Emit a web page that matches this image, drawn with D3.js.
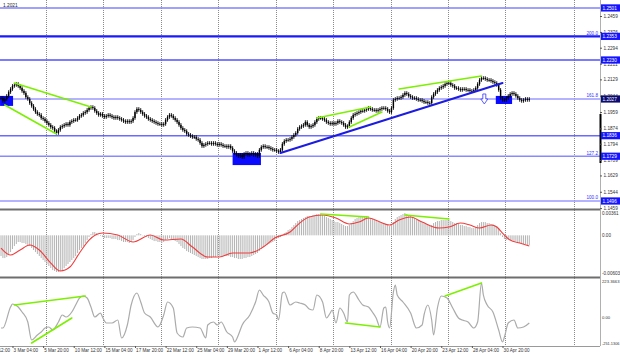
<!DOCTYPE html>
<html><head><meta charset="utf-8">
<script src="https://cdn.jsdelivr.net/npm/d3@7"></script>
<style>body{margin:0;background:#fff}svg{display:block}</style>
</head><body><svg id="c" width="620" height="357"></svg>
<script>
// ---- DATA ----
const closes = [
1.2032,1.2017,1.2027,1.2043,1.2063,1.2079,1.2095,1.2100,1.2105,1.2095,
1.2084,1.2069,1.2058,1.2037,1.2027,1.2006,1.1991,1.1975,1.1959,1.1949,
1.1944,1.1928,1.1923,1.1912,1.1902,1.1892,1.1881,1.1876,1.1860,1.1850,
1.1866,1.1881,1.1886,1.1892,1.1897,1.1892,1.1907,1.1912,1.1918,1.1918,
1.1928,1.1939,1.1944,1.1954,1.1959,1.1970,1.1980,1.1985,1.1980,1.1965,
1.1954,1.1944,1.1949,1.1939,1.1933,1.1939,1.1944,1.1939,1.1933,1.1928,
1.1933,1.1928,1.1923,1.1918,1.1912,1.1907,1.1912,1.1907,1.1912,1.1928,
1.1959,1.1975,1.1970,1.1959,1.1949,1.1939,1.1933,1.1923,1.1918,1.1912,
1.1907,1.1902,1.1897,1.1897,1.1892,1.1897,1.1918,1.1933,1.1944,1.1939,
1.1928,1.1918,1.1907,1.1892,1.1876,1.1866,1.1860,1.1845,1.1840,1.1834,
1.1829,1.1829,1.1819,1.1814,1.1798,1.1782,1.1788,1.1793,1.1798,1.1798,
1.1793,1.1798,1.1793,1.1788,1.1793,1.1788,1.1782,1.1782,1.1777,1.1782,
1.1772,1.1756,1.1746,1.1736,1.1730,1.1736,1.1725,1.1741,1.1746,1.1736,
1.1741,1.1746,1.1736,1.1741,1.1730,1.1762,1.1777,1.1782,1.1777,1.1777,
1.1772,1.1767,1.1762,1.1762,1.1756,1.1751,1.1762,1.1793,1.1808,1.1814,
1.1814,1.1819,1.1829,1.1840,1.1850,1.1871,1.1881,1.1886,1.1892,1.1907,
1.1892,1.1881,1.1886,1.1892,1.1907,1.1923,1.1928,1.1928,1.1923,1.1918,
1.1907,1.1902,1.1897,1.1902,1.1897,1.1902,1.1912,1.1907,1.1902,1.1892,
1.1881,1.1886,1.1907,1.1928,1.1944,1.1949,1.1954,1.1959,1.1965,1.1965,
1.1970,1.1975,1.1980,1.1975,1.1970,1.1970,1.1965,1.1970,1.1975,1.1980,
1.1980,1.1975,1.1965,1.1959,1.1980,1.2022,1.2027,1.2032,1.2032,1.2037,
1.2048,1.2058,1.2053,1.2043,1.2037,1.2032,1.2032,1.2027,1.2022,1.2022,
1.2017,1.2011,1.2011,1.2006,1.2006,1.2037,1.2053,1.2063,1.2074,1.2084,
1.2089,1.2095,1.2105,1.2110,1.2110,1.2100,1.2095,1.2084,1.2084,1.2079,
1.2074,1.2079,1.2079,1.2074,1.2074,1.2069,1.2069,1.2074,1.2084,1.2105,
1.2126,1.2136,1.2136,1.2131,1.2126,1.2126,1.2121,1.2115,1.2110,1.2100,
1.2074,1.2032,1.2022,1.2022,1.2032,1.2043,1.2053,1.2058,1.2053,1.2043,
1.2032,1.2022,1.2017,1.2022,1.2027,1.2022,1.2027];

const macdHist = [
-0.00307,-0.00337,-0.00337,-0.00322,-0.00292,-0.00248,-0.00203,-0.00159,-0.00129,-0.00099,
-0.00099,-0.00114,-0.00114,-0.00129,-0.00144,-0.00159,-0.00188,-0.00218,-0.00248,-0.00277,
-0.00307,-0.00337,-0.00366,-0.00396,-0.00426,-0.00455,-0.00485,-0.00515,-0.00529,-0.00544,
-0.00544,-0.00529,-0.00515,-0.00485,-0.00455,-0.00426,-0.00396,-0.00366,-0.00337,-0.00307,
-0.00262,-0.00218,-0.00188,-0.00159,-0.00114,-0.00070,-0.00025,0.00019,0.00049,0.00049,
0.00034,0.00004,-0.00010,-0.00025,-0.00040,-0.00040,-0.00040,-0.00040,-0.00055,-0.00055,
-0.00055,-0.00070,-0.00070,-0.00085,-0.00099,-0.00099,-0.00099,-0.00114,-0.00099,-0.00070,
-0.00025,0.00019,0.00034,0.00019,0.00004,-0.00010,-0.00025,-0.00040,-0.00055,-0.00070,
-0.00085,-0.00085,-0.00099,-0.00099,-0.00114,-0.00099,-0.00070,-0.00055,-0.00040,-0.00055,
-0.00070,-0.00085,-0.00099,-0.00129,-0.00159,-0.00188,-0.00203,-0.00233,-0.00248,-0.00262,
-0.00277,-0.00292,-0.00307,-0.00322,-0.00337,-0.00351,-0.00351,-0.00351,-0.00351,-0.00337,
-0.00337,-0.00322,-0.00322,-0.00307,-0.00307,-0.00307,-0.00307,-0.00307,-0.00307,-0.00307,
-0.00322,-0.00322,-0.00337,-0.00337,-0.00351,-0.00351,-0.00351,-0.00337,-0.00337,-0.00322,
-0.00322,-0.00307,-0.00292,-0.00277,-0.00262,-0.00233,-0.00203,-0.00174,-0.00159,-0.00144,
-0.00129,-0.00114,-0.00099,-0.00085,-0.00055,-0.00040,-0.00025,0.00004,0.00034,0.00049,
0.00079,0.00093,0.00123,0.00153,0.00182,0.00212,0.00227,0.00242,0.00257,0.00271,
0.00286,0.00286,0.00286,0.00301,0.00301,0.00316,0.00316,0.00316,0.00301,0.00286,
0.00271,0.00257,0.00242,0.00227,0.00212,0.00197,0.00197,0.00182,0.00168,0.00153,
0.00138,0.00138,0.00153,0.00182,0.00212,0.00242,0.00257,0.00271,0.00286,0.00286,
0.00286,0.00286,0.00271,0.00257,0.00242,0.00227,0.00212,0.00197,0.00197,0.00182,
0.00182,0.00168,0.00153,0.00138,0.00153,0.00197,0.00242,0.00271,0.00286,0.00301,
0.00316,0.00331,0.00316,0.00301,0.00286,0.00271,0.00257,0.00242,0.00227,0.00212,
0.00197,0.00182,0.00168,0.00153,0.00138,0.00153,0.00182,0.00197,0.00212,0.00212,
0.00227,0.00227,0.00227,0.00227,0.00227,0.00212,0.00197,0.00182,0.00182,0.00168,
0.00153,0.00153,0.00138,0.00138,0.00123,0.00123,0.00108,0.00108,0.00123,0.00153,
0.00182,0.00197,0.00197,0.00197,0.00182,0.00182,0.00168,0.00168,0.00153,0.00138,
0.00108,0.00034,-0.00025,-0.00055,-0.00070,-0.00070,-0.00070,-0.00070,-0.00085,-0.00085,
-0.00099,-0.00114,-0.00114,-0.00129,-0.00129,-0.00144,-0.00144];

const signalBars = [0,5,10,15,20,26,31,36,41,46,53,61,69,78,85,94,100,108,114,121,130,137,143,151,156,161,168,175,182,187,192,198,203,208,214,220,229,234,240,245,250,256,259,262,266,271,276];
const signalVals = [-0.00188,-0.00292,-0.00218,-0.00144,-0.00218,-0.00411,-0.00529,-0.00470,-0.00262,-0.00070,0.00034,0.00004,-0.00099,0.00004,-0.00070,-0.00055,-0.00174,-0.00322,-0.00322,-0.00262,-0.00262,-0.00174,-0.00040,0.00049,0.00182,0.00271,0.00301,0.00257,0.00168,0.00197,0.00257,0.00197,0.00153,0.00227,0.00271,0.00197,0.00108,0.00123,0.00182,0.00153,0.00108,0.00153,0.00123,0.00034,-0.00070,-0.00114,-0.00159];

const cciBars = [0,1,5,6,9,11,14,16,19,21,23,25,27,30,32,34,37,39,41,43,45,47,49,52,53,55,58,61,63,66,68,71,73,75,78,82,83,85,87,90,92,95,97,100,104,107,108,111,113,115,118,121,122,124,126,130,133,135,137,140,142,144,145,147,148,151,154,156,159,161,163,165,168,170,172,173,175,177,179,181,182,184,187,189,192,194,196,198,200,201,202,203,205,206,207,210,214,217,220,221,223,225,226,228,230,233,236,239,241,244,247,249,251,252,254,257,260,262,263,265,268,270,273,276];
const cciVals = [-123.6,-123.6,25.1,46.3,25.1,-10.3,-81.2,-208.6,-173.2,-152.0,
-123.6,-116.6,-137.8,-81.2,-31.6,-45.8,-10.3,39.2,88.8,102.9,
88.8,25.1,-45.8,-17.4,-45.8,-88.2,-88.2,-67.0,-194.5,-102.4,
39.2,124.2,60.5,-17.4,-45.8,-116.6,-102.4,-31.6,60.5,18.0,
-159.1,-187.4,-123.6,-116.6,-123.6,-194.5,-102.4,-81.2,-102.4,-81.2,
-152.0,-187.4,-222.8,-173.2,-102.4,-31.6,60.5,145.5,110.0,60.5,
-17.4,-31.6,-67.0,124.2,131.3,39.2,60.5,53.4,39.2,10.9,
3.8,110.0,60.5,-52.8,-17.4,3.8,-88.2,18.0,-17.4,-81.2,
110.0,131.3,74.6,39.2,25.1,-10.3,-52.8,-116.6,18.0,25.1,
-81.2,-123.6,131.3,180.9,110.0,60.5,-17.4,-123.6,-102.4,-31.6,
39.2,-67.0,-173.2,18.0,102.9,88.8,18.0,-52.8,-67.0,-81.2,
-123.6,-81.2,195.0,110.0,39.2,-10.3,-137.8,-222.8,-187.4,-88.2,
-67.0,-123.6,-116.6,-88.2];

const priceTicks = [1.2459,1.2376,1.2294,1.2211,1.2129,1.2044,1.1959,1.1874,1.1794,1.1709,1.1629,1.1544,1.1459];
const levelPrices = [1.2501,1.2353,1.2230,1.2027,1.1836,1.1729,1.1496];
const levelFibo = ["","200.0","","161.8","","127.2","100.0"];
const dateLabels = ["26 Feb 12:00","3 Mar 04:00","5 Mar 20:00","10 Mar 12:00","15 Mar 04:00","17 Mar 20:00","22 Mar 12:00","25 Mar 04:00","29 Mar 20:00","1 Apr 12:00","6 Apr 04:00","8 Apr 20:00","13 Apr 12:00","16 Apr 04:00","20 Apr 20:00","23 Apr 12:00","28 Apr 04:00","30 Apr 20:00"];
const dateLabelBars = [-10,6,22,38,54,70,86,102,118,134,150,166,182,198,214,230,246,262];
const gridBars = [23.5,53.5,83.5,113.5,143.5,173.5,203.5,233.5,263.5,299.5];
const macdLabels = [0.00361,0,-0.00603];
const cciLabels = [223.3663,0,-251.1306];
const lastPrice = 1.2021;
// annotation segments [bar1, value1, bar2, value2]
const priceGreenLines = [[7,1.2110,47,1.1985],[2,1.1996,29,1.1845],[165,1.1928,193,1.1985],[182,1.1881,199,1.1959],[208,1.2079,251,1.2147]];
const priceBlueLines = [[146,1.1746,262,1.2110]];
const macdGreenLines = [[167,0.00316,192,0.00271],[211,0.00301,234,0.00242]];
const cciGreenLines = [[7,39.2,44,102.9],[16,-229.9,37,-52.8],[180,-88.2,198,-116.6],[232,102.9,251,195.0]];
// rectangles [bar1, bar2, priceLow, priceHigh]
const priceBoxes = [[-0.5,6.3,1.1991,1.2043],[121,135.8,1.1683,1.1746],[258.5,267,1.2001,1.2043]];
const arrowMark = [252.5,1.2053,1.2001];

// ---- SCALES ----
const svg = d3.select("#c");
const FONT = "'Liberation Sans', Arial, sans-serif";
const xs = d3.scaleLinear().domain([0,276]).range([1,529.3]);
const yP = d3.scaleLinear().domain([1.1459,1.2459]).range([208.1,16.0]);
const yM = d3.scaleLinear().domain([-0.00603,0.00361]).range([276,211]);
const yC = d3.scaleLinear().domain([-251.1306,223.3663]).range([346,279]);

svg.append("rect").attr("width",620).attr("height",357).attr("fill","#fff");

// vertical dotted grid
svg.append("g").selectAll("line").data(gridBars).join("line")
  .attr("x1",d=>Math.round(xs(d))+0.5).attr("x2",d=>Math.round(xs(d))+0.5)
  .attr("y1",0).attr("y2",346)
  .attr("stroke","#8a8a8a").attr("stroke-width",1).attr("stroke-dasharray","1,1");

// horizontal levels
const levelColor = ["#8080ff","#1a1aff","#5050ff","#9a9aff","#6a6aff","#8a8aff","#9a9aff"];
const levelWidth = [1.5,2.2,1.5,1.5,1.5,1.5,1.5];
svg.append("g").selectAll("line").data(levelPrices).join("line")
  .attr("x1",0).attr("x2",600)
  .attr("y1",d=>yP(d)).attr("y2",d=>yP(d))
  .attr("stroke",(d,i)=>levelColor[i]).attr("stroke-width",(d,i)=>levelWidth[i]);

// blue boxes behind candles
svg.append("g").selectAll("rect").data(priceBoxes).join("rect")
  .attr("x",d=>xs(d[0])).attr("width",d=>xs(d[1])-xs(d[0]))
  .attr("y",d=>yP(d[3])).attr("height",d=>yP(d[2])-yP(d[3]))
  .attr("fill","#0a0aff");

// candles
const candles = closes.map((c,i)=>({i, o: i? closes[i-1] : c, c}));
const cg = svg.append("g");
cg.selectAll("line").data(candles).join("line")
  .attr("x1",d=>xs(d.i)).attr("x2",d=>xs(d.i))
  .attr("y1",d=>yP(Math.max(d.o,d.c))-1.8).attr("y2",d=>yP(Math.min(d.o,d.c))+1.8)
  .attr("stroke","#000").attr("stroke-width",0.9);
cg.selectAll("rect").data(candles).join("rect")
  .attr("x",d=>xs(d.i)-0.7).attr("width",1.4)
  .attr("y",d=>yP(Math.max(d.o,d.c))).attr("height",d=>Math.max(0.8,Math.abs(yP(d.o)-yP(d.c))))
  .attr("fill","#000");

// trend lines
function segs(g, data, ys, color, w){
  g.selectAll(null).data(data).join("line")
    .attr("x1",d=>xs(d[0])).attr("y1",d=>ys(d[1]))
    .attr("x2",d=>xs(d[2])).attr("y2",d=>ys(d[3]))
    .attr("stroke",color).attr("stroke-width",w).attr("stroke-linecap","round");
}
segs(svg.append("g"), priceGreenLines, yP, "#7cf000", 1.6);
segs(svg.append("g"), priceBlueLines, yP, "#1c1ce0", 2);

// hollow down arrow
{
  const x = xs(arrowMark[0]), yt = yP(arrowMark[1]), yb = yP(arrowMark[2]);
  const h = yb-yt;
  const p = d3.path();
  p.moveTo(x-1.5,yt); p.lineTo(x+1.5,yt); p.lineTo(x+1.5,yt+h*0.5);
  p.lineTo(x+3.5,yt+h*0.5); p.lineTo(x,yb); p.lineTo(x-3.5,yt+h*0.5);
  p.lineTo(x-1.5,yt+h*0.5); p.closePath();
  svg.append("path").attr("d",p.toString()).attr("fill","#fff").attr("stroke","#4a4aff").attr("stroke-width",0.9);
}

// fibo labels
svg.append("g").selectAll("text").data(levelPrices.map((p,i)=>({p,t:levelFibo[i]})).filter(d=>d.t)).join("text")
  .attr("x",598).attr("y",d=>yP(d.p)-1.5).attr("text-anchor","end")
  .attr("font-family",FONT).attr("font-size",4.6).attr("fill","#3030ff").text(d=>d.t);

// top-left label
svg.append("text").attr("x",3).attr("y",6.5).attr("font-family",FONT).attr("font-size",4.8)
  .attr("fill","#222").text(d3.format(".4f")(lastPrice));

// ---- MACD ----
svg.append("g").selectAll("line").data(macdHist).join("line")
  .attr("x1",(d,i)=>xs(i)).attr("x2",(d,i)=>xs(i))
  .attr("y1",yM(0)).attr("y2",d=>yM(d))
  .attr("stroke","#b4b4b4").attr("stroke-width",1);
svg.append("path").datum(signalBars.map((b,i)=>[b,signalVals[i]]))
  .attr("d",d3.line().x(d=>xs(d[0])).y(d=>yM(d[1])).curve(d3.curveMonotoneX))
  .attr("fill","none").attr("stroke","#f03c3c").attr("stroke-width",1.1);
segs(svg.append("g"), macdGreenLines, yM, "#7cf000", 1.6);

// ---- CCI ----
svg.append("path").datum(cciBars.map((b,i)=>[b,cciVals[i]]))
  .attr("d",d3.line().x(d=>xs(d[0])).y(d=>yC(d[1])).curve(d3.curveMonotoneX))
  .attr("fill","none").attr("stroke","#ababab").attr("stroke-width",1.2);
segs(svg.append("g"), cciGreenLines, yC, "#7cf000", 1.6);

// panel separators
[209.5, 277.5].forEach(y=>svg.append("line").attr("x1",0).attr("x2",600).attr("y1",y).attr("y2",y)
  .attr("stroke","#6e6e6e").attr("stroke-width",2.2));
svg.append("line").attr("x1",0).attr("x2",600).attr("y1",346.5).attr("y2",346.5).attr("stroke","#9a9a9a").attr("stroke-width",1);
svg.append("line").attr("x1",600.5).attr("x2",600.5).attr("y1",0).attr("y2",346).attr("stroke","#b0b0b0").attr("stroke-width",1);
svg.append("line").attr("x1",600.5).attr("x2",600.5).attr("y1",114).attr("y2",163).attr("stroke","#000").attr("stroke-width",2);

// ---- AXES ----
const ax = svg.append("g").attr("transform","translate(600,0)")
  .call(d3.axisRight(yP).tickValues(priceTicks).tickSize(2).tickPadding(1.5).tickFormat(d3.format(".4f")));
ax.select(".domain").remove();
ax.attr("font-family",FONT).attr("font-size",4.7);
ax.selectAll("text").attr("fill","#333");
ax.selectAll("line").attr("stroke","#555");

// level tags on axis
const tags = svg.append("g");
levelPrices.forEach((p,i)=>{
  const y = yP(p);
  tags.append("rect").attr("x",601).attr("y",y-3.6).attr("width",19).attr("height",7.2)
    .attr("fill", i===3 ? "#0b0b70" : "#1414ff");
  tags.append("text").attr("x",602.5).attr("y",y+1.7).attr("font-family",FONT).attr("font-size",4.7)
    .attr("fill","#fff").text(d3.format(".4f")(p));
});

// MACD labels
const macdFmt = ["0.00361","0.00","-0.00603"];
const macdOff = [3.5,1.7,-1.5];
svg.append("g").selectAll("text").data(macdLabels).join("text")
  .attr("x",602).attr("y",(d,i)=>yM(d)+macdOff[i]).attr("font-family",FONT).attr("font-size",4.6)
  .attr("fill","#333").text((d,i)=>macdFmt[i]);
// CCI labels
const cciFmt = ["223.3663","0.00","-251.1306"];
const cciOff = [3.5,8,-1.5];
svg.append("g").selectAll("text").data(cciLabels).join("text")
  .attr("x",602).attr("y",(d,i)=>yC(d)+cciOff[i]).attr("font-family",FONT).attr("font-size",4.2)
  .attr("textLength",(d,i)=> i===1 ? null : 17.5).attr("lengthAdjust","spacingAndGlyphs")
  .attr("fill","#333").text((d,i)=>cciFmt[i]);

// x axis
const xa = svg.append("g").attr("transform","translate(0,346)")
  .call(d3.axisBottom(xs).tickValues(dateLabelBars).tickSize(2).tickPadding(1.2).tickFormat((d,i)=>dateLabels[i]));
xa.select(".domain").remove();
xa.attr("font-family",FONT).attr("font-size",4.6);
xa.selectAll("text").attr("text-anchor","start").attr("dx","0.6").attr("fill","#333");
xa.selectAll("line").attr("stroke","#555");
</script></body></html>
